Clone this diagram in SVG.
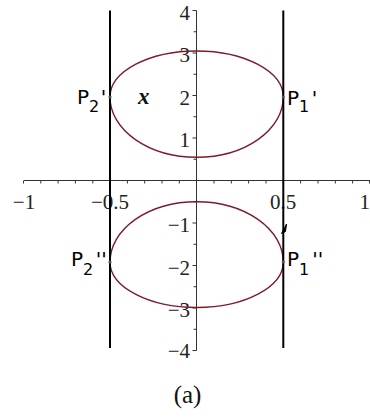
<svg xmlns="http://www.w3.org/2000/svg" width="370" height="418" viewBox="0 0 370 418">
<style>
.ax{stroke:#333;stroke-width:1;fill:none}
.tk{stroke:#333;stroke-width:1}
.vl{stroke:#000;stroke-width:2}
.cv{stroke:#7e1b2b;stroke-width:1.4;fill:none}
.num{font-family:"Liberation Serif","Times New Roman",serif;font-size:21px;fill:#222}
.ny{text-anchor:end}
.nx{text-anchor:middle}
.pl{font-family:"DejaVu Sans",Verdana,sans-serif;font-size:20px;fill:#000}
.sub{font-size:16px}
.xv{font-family:"Liberation Serif","Times New Roman",serif;font-size:23px;font-style:italic;font-weight:bold;fill:#111}
.cap{font-family:"Liberation Serif","Times New Roman",serif;font-size:25px;fill:#111;text-anchor:middle}
.dot{fill:#555}
</style>
<g id="axes">
<line class="ax" x1="24" y1="180.5" x2="370" y2="180.5"/>
<line class="ax" x1="196.5" y1="10.5" x2="196.5" y2="350.5"/>
<path class="tk" d="M23.5,180.5v3M40.8,180.5v3M58.1,180.5v3M75.4,180.5v3M92.8,180.5v3M110,180.5v3M127.4,180.5v3M144.7,180.5v3M162,180.5v3M179.3,180.5v3M214,180.5v3M231.3,180.5v3M248.6,180.5v3M266,180.5v3M283.3,180.5v3M300.6,180.5v3M318,180.5v3M335.3,180.5v3M352.6,180.5v3M369.5,180.5v3"/>
<path class="tk" d="M192.5,10.5h4M193.5,31.75h3M192.5,53h4M193.5,74.25h3M192.5,95.5h4M193.5,116.75h3M192.5,138h4M193.5,159.25h3M193.5,201.75h3M192.5,223h4M193.5,244.25h3M192.5,265.5h4M193.5,286.75h3M192.5,308h4M193.5,329.25h3M192.5,350.5h4"/>
</g>
<g id="axis-labels">
<text class="num ny" x="190" y="20">4</text>
<text class="num ny" x="190" y="62">3</text>
<text class="num ny" x="190" y="104.5">2</text>
<text class="num ny" x="190" y="147">1</text>
<text class="num ny" x="190" y="232">−1</text>
<text class="num ny" x="190" y="274.5">−2</text>
<text class="num ny" x="190" y="317">−3</text>
<text class="num ny" x="190" y="358">−4</text>
<text class="num nx" x="24" y="209">−1</text>
<text class="num nx" x="110" y="209">−0.5</text>
<text class="num nx" x="283" y="209">0.5</text>
<text class="num ny" x="370" y="209">1</text>
</g>
<g id="curve-upper">
<path class="cv" d="M110,97 A86.7,46 0 0 1 196.7,51 A86.6,46 0 0 1 283.3,97 A86.6,60.3 0 0 1 196.7,157.3 A86.7,60.3 0 0 1 110,97 Z"/>
</g>
<g id="curve-lower">
<path class="cv" d="M110,262 A86.7,60.3 0 0 1 196.7,201.7 A86.6,60.3 0 0 1 283.3,262 A86.6,45.5 0 0 1 196.7,307.5 A86.7,45.5 0 0 1 110,262 Z"/>
</g>
<g id="lines">
<line class="vl" x1="110" y1="10.5" x2="110" y2="348"/>
<line class="vl" x1="283.3" y1="10.5" x2="283.3" y2="348"/>
<path d="M286.5,224 L281.5,233.5 L285.5,231.5 Z" fill="#000" stroke="#000" stroke-width="1"/>
</g>
<g id="P2p">
<circle class="dot" cx="110" cy="97" r="1.6"/>
<text class="pl" x="77" y="104">P<tspan class="sub" dy="7.5">2</tspan><tspan dx="1.5" dy="-7.5">'</tspan></text>
</g>
<g id="P1p">
<circle class="dot" cx="283.3" cy="97" r="1.6"/>
<text class="pl" x="287" y="104.5">P<tspan class="sub" dy="7.5">1</tspan><tspan dx="2.5" dy="-7.5">'</tspan></text>
</g>
<g id="P2pp">
<circle class="dot" cx="110" cy="262" r="1.6"/>
<text class="pl" x="71" y="266">P<tspan class="sub" dy="8.5">2</tspan><tspan dx="2.5" dy="-8.5">''</tspan></text>
</g>
<g id="P1pp">
<circle class="dot" cx="283.3" cy="262" r="1.6"/>
<text class="pl" x="287" y="266">P<tspan class="sub" dy="8.5">1</tspan><tspan dx="3" dy="-8.5">''</tspan></text>
</g>
<g id="label-x">
<text class="xv" x="138" y="104">x</text>
</g>
<g id="caption">
<text class="cap" x="187.5" y="403">(a)</text>
</g>
</svg>
